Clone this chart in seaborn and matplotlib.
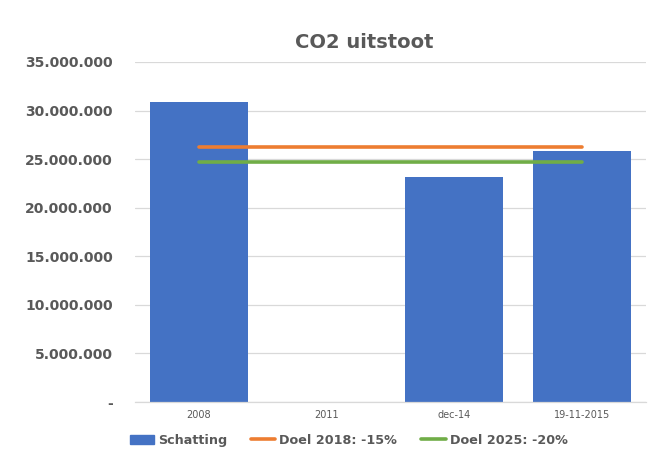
import matplotlib
matplotlib.use("Agg")
import matplotlib.pyplot as plt
import seaborn as sns
import pandas as pd
from matplotlib.patches import Patch
from matplotlib.lines import Line2D
from matplotlib.ticker import FuncFormatter

categories = ["2008", "2011", "dec-14", "19-11-2015"]
schatting = [30880000, 0, 23170000, 25850000]
doel_2018 = [26220000, 26220000, 26220000, 26220000]
doel_2025 = [24680000, 24680000, 24680000, 24680000]
yticks = [0, 5000000, 10000000, 15000000, 20000000, 25000000, 30000000, 35000000]

sns.set_style("white")
plt.rcParams['font.family'] = ['DejaVu Sans']

blue = "#4472C4"
orange = "#ED7D31"
green = "#70AD47"
gray = "#595959"

fig = plt.figure(figsize=(6.65, 4.59), dpi=100)
ax = fig.add_axes([0.203, 0.124, 0.768, 0.741])

df = pd.DataFrame({"cat": categories, "val": schatting})
sns.barplot(data=df, x="cat", y="val", order=categories, color=blue,
            saturation=1, width=0.77, linewidth=0, ax=ax, zorder=2)

pos = list(range(len(categories)))
ax.plot(pos, doel_2018, color=orange, lw=2.6, solid_capstyle="round", zorder=3)
ax.plot(pos, doel_2025, color=green, lw=2.6, solid_capstyle="round", zorder=3)

ax.set_xlim(-0.5, 3.5)
ax.set_ylim(0, 35000000)
ax.set_yticks(yticks)
ax.yaxis.set_major_formatter(FuncFormatter(
    lambda v, p: "-" if v == 0 else f"{int(v):,}".replace(",", ".")))
ax.grid(axis="y", color="#D9D9D9", lw=0.9, zorder=0)
ax.set_axisbelow(True)
for s in ["left", "right", "top"]:
    ax.spines[s].set_visible(False)
ax.spines["bottom"].set_color("#D9D9D9")
ax.spines["bottom"].set_linewidth(0.9)
ax.set_xlabel("")
ax.set_ylabel("")
ax.tick_params(axis="y", length=0, pad=16, labelsize=10, labelcolor=gray)
ax.tick_params(axis="x", length=0, pad=6, labelsize=7, labelcolor=gray)
for t in ax.get_yticklabels():
    t.set_fontweight("bold")

fig.text(0.547, 0.908, "CO2 uitstoot", ha="center", va="center",
         fontsize=14, fontweight="bold", color=gray)

handles = [Patch(color=blue), Line2D([], [], color=orange, lw=2.6),
           Line2D([], [], color=green, lw=2.6)]
labels = ["Schatting", "Doel 2018: -15%", "Doel 2025: -20%"]
leg = fig.legend(handles, labels, loc="center", bbox_to_anchor=(0.524, 0.041),
                 ncol=3, frameon=False, handlelength=1.9, handletextpad=0.3,
                 columnspacing=1.9, prop={"weight": "bold", "size": 9.2})
for t in leg.get_texts():
    t.set_color(gray)

fig.savefig("out.png", dpi=100)
